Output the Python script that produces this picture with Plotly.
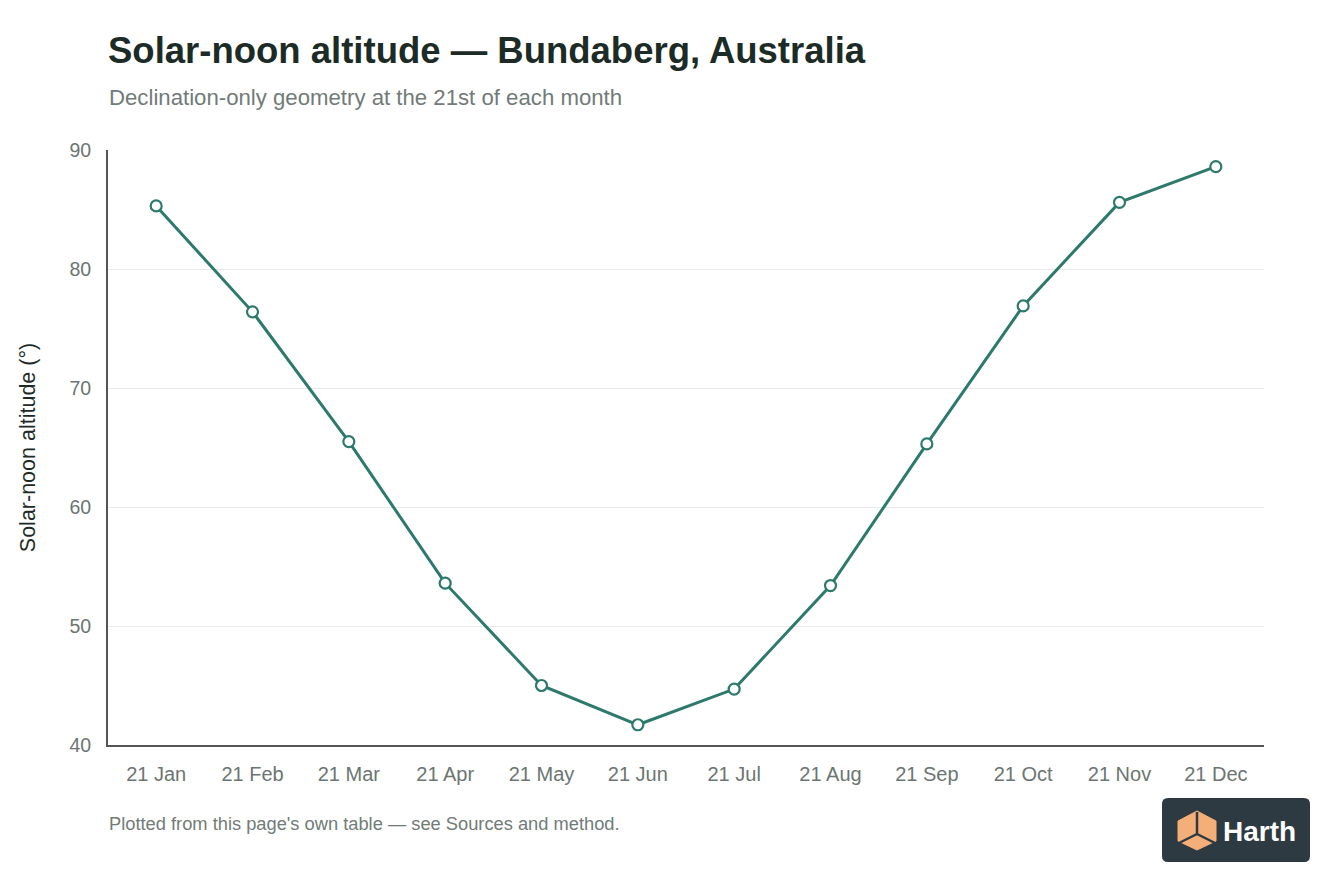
import plotly.graph_objects as go

months = ["21 Jan", "21 Feb", "21 Mar", "21 Apr", "21 May", "21 Jun",
          "21 Jul", "21 Aug", "21 Sep", "21 Oct", "21 Nov", "21 Dec"]
altitude = [85.3, 76.4, 65.5, 53.6, 45.0, 41.7, 44.7, 53.4, 65.3, 76.9, 85.6, 88.6]
y_ticks = [40, 50, 60, 70, 80, 90]

# page renders with an 8px body offset; compensate
OFF = 8
W, H = 1344 - OFF, 896 - OFF
PLOT_L, PLOT_R, PLOT_T, PLOT_B = 108, 1264, 150, 745
L = PLOT_L - OFF
T = PLOT_T - OFF
R = W + OFF - PLOT_R
B = H + OFF - PLOT_B
PW, PH = PLOT_R - PLOT_L, PLOT_B - PLOT_T

def px(x):
    return (x - PLOT_L) / PW

def py(y):
    return (PLOT_B - y) / PH

LINE = "#2d7a6c"
FONT = "Liberation Sans, Arial, sans-serif"

fig = go.Figure()
fig.add_trace(go.Scatter(
    x=months, y=altitude, mode="lines+markers",
    line=dict(color=LINE, width=3),
    marker=dict(size=11, color="white", line=dict(color=LINE, width=2.2)),
    hoverinfo="x+y", showlegend=False,
))

shapes = []
# rounded badge
bx0, bx1, by0, by1, rr = 1162, 1310, 798, 862, 6
badge = (f"M {px(bx0+rr):.5f},{py(by0):.5f} L {px(bx1-rr):.5f},{py(by0):.5f} "
         f"Q {px(bx1):.5f},{py(by0):.5f} {px(bx1):.5f},{py(by0+rr):.5f} "
         f"L {px(bx1):.5f},{py(by1-rr):.5f} Q {px(bx1):.5f},{py(by1):.5f} {px(bx1-rr):.5f},{py(by1):.5f} "
         f"L {px(bx0+rr):.5f},{py(by1):.5f} Q {px(bx0):.5f},{py(by1):.5f} {px(bx0):.5f},{py(by1-rr):.5f} "
         f"L {px(bx0):.5f},{py(by0+rr):.5f} Q {px(bx0):.5f},{py(by0):.5f} {px(bx0+rr):.5f},{py(by0):.5f} Z")
shapes.append(dict(type="path", xref="paper", yref="paper", path=badge,
                   fillcolor="#2d3a42", line=dict(width=0), layer="above"))
hexpts = [(1197, 811), (1216, 821), (1216, 841), (1197, 850), (1178, 841), (1178, 821)]
path = "M " + " L ".join(f"{px(a):.5f},{py(b):.5f}" for a, b in hexpts) + " Z"
shapes.append(dict(type="path", xref="paper", yref="paper", path=path,
                   fillcolor="#f4ae78", line=dict(color="#f4ae78", width=1), layer="above"))
cx, cy = 1197, 834
for a, b in [(1197, 812), (1179, 843), (1215, 843)]:
    shapes.append(dict(type="line", xref="paper", yref="paper",
                       x0=px(cx), y0=py(cy), x1=px(a), y1=py(b),
                       line=dict(color="#2d3a42", width=2.5), layer="above"))

annotations = [
    dict(text="<b>Solar-noon altitude — Bundaberg, Australia</b>", xref="paper", yref="paper",
         x=px(106), y=py(51), xanchor="left", yanchor="middle", showarrow=False,
         font=dict(size=36.5, color="#1d2b27", family=FONT)),
    dict(text="Declination-only geometry at the 21st of each month", xref="paper", yref="paper",
         x=px(107), y=py(97), xanchor="left", yanchor="middle", showarrow=False,
         font=dict(size=22.2, color="#717b78", family=FONT)),
    dict(text="Plotted from this page's own table — see Sources and method.", xref="paper", yref="paper",
         x=px(107), y=py(823), xanchor="left", yanchor="middle", showarrow=False,
         font=dict(size=18.3, color="#717b78", family=FONT)),
    dict(text="<b>Harth</b>", xref="paper", yref="paper",
         x=px(1221), y=py(831), xanchor="left", yanchor="middle", showarrow=False,
         font=dict(size=28, color="white", family=FONT)),
]

fig.update_layout(
    width=W, height=H,
    margin=dict(l=L, r=R, t=T, b=B),
    paper_bgcolor="white", plot_bgcolor="white",
    font=dict(family=FONT, color="#6b7572", size=19),
    shapes=shapes, annotations=annotations,
    xaxis=dict(type="category", range=[-0.5, 11.5], showgrid=False,
               showline=True, linecolor="#555555", linewidth=2,
               ticks="", ticklabelstandoff=10,
               tickfont=dict(size=20, color="#6b7572"), fixedrange=True),
    yaxis=dict(range=[40, 90], tickvals=y_ticks, showgrid=True, gridcolor="#e8eaea", gridwidth=1,
               showline=True, linecolor="#555555", linewidth=2, zeroline=False,
               ticks="", ticklabelstandoff=11,
               tickfont=dict(size=19.5, color="#6b7572"),
               title=dict(text="Solar-noon altitude (°)", standoff=28,
                          font=dict(size=21.5, color="#1d2b27")), fixedrange=True),
)

fig.write_html("out.html")
